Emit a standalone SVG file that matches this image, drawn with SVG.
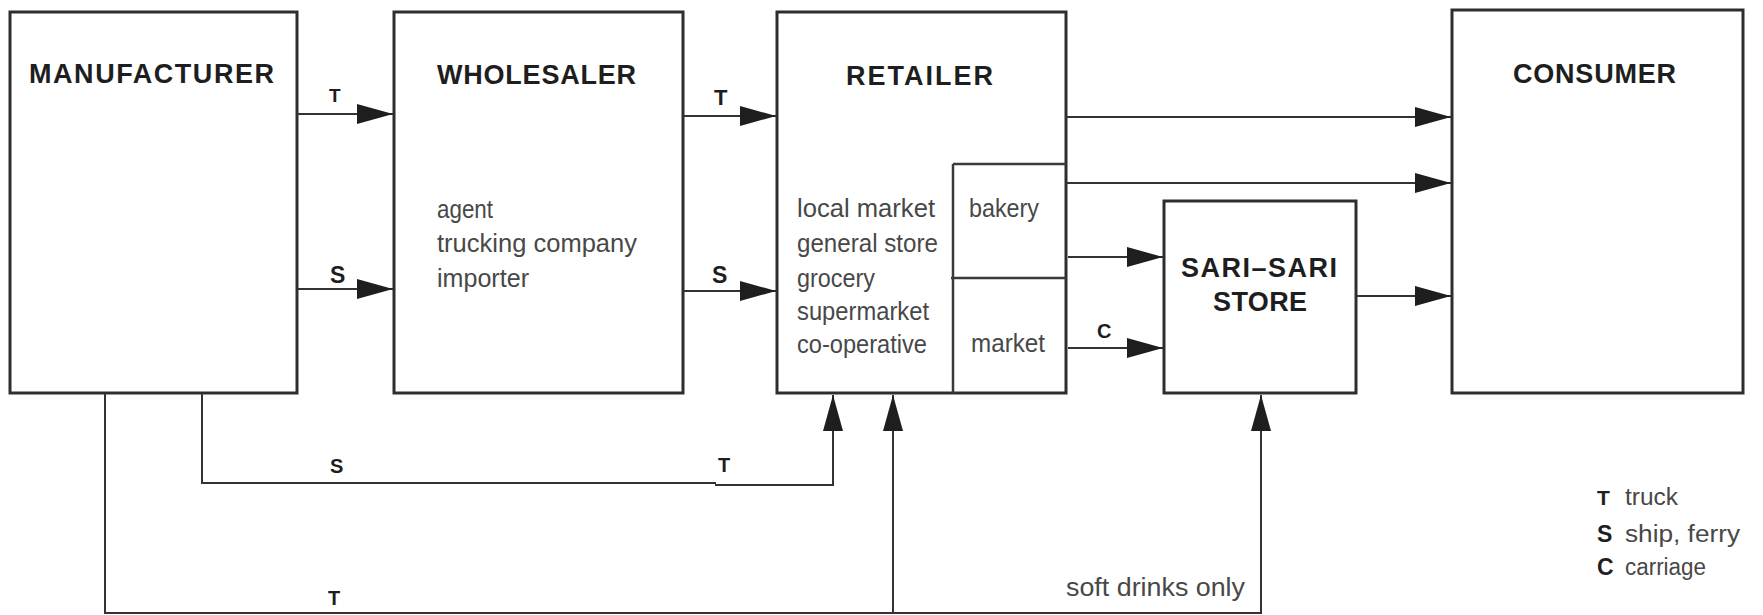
<svg xmlns="http://www.w3.org/2000/svg" width="1763" height="615" viewBox="0 0 1763 615">
  <style>
    .box { fill: #fff; stroke: #2e2e2e; stroke-width: 3; }
    .div { fill: none; stroke: #3a3a3a; stroke-width: 2.5; }
    .title { font-family: "Liberation Sans", Arial, sans-serif; font-weight: bold; font-size: 27px; fill: #1e1e1e; }
    .body { font-family: "Liberation Sans", Arial, sans-serif; font-size: 26px; fill: #484848; }
    .mode { font-family: "Liberation Sans", Arial, sans-serif; font-weight: bold; font-size: 20px; fill: #1e1e1e; }
    .legend { font-family: "Liberation Sans", Arial, sans-serif; font-size: 23px; fill: #484848; }
    .link { fill: none; stroke: #333; stroke-width: 2; }
  </style>
  <defs>
    <marker id="arrow" viewBox="0 0 36 20" refX="36" refY="10" markerWidth="36" markerHeight="20" markerUnits="userSpaceOnUse" orient="auto">
      <path d="M0,0 L36,10 L0,20 Z" fill="#1e1e1e"/>
    </marker>
  </defs>
  <rect width="1763" height="615" fill="#fff"/>

  <!-- supply-chain stages -->
  <g id="manufacturer">
    <rect class="box" x="10" y="12" width="287" height="381"/>
    <text class="title" x="29" y="83" textLength="245" lengthAdjust="spacing">MANUFACTURER</text>
  </g>

  <g id="wholesaler">
    <rect class="box" x="394" y="12" width="289" height="381"/>
    <text class="title" x="437" y="84" textLength="199" lengthAdjust="spacing">WHOLESALER</text>
    <text class="body" x="437" y="218" textLength="56" lengthAdjust="spacingAndGlyphs">agent</text>
    <text class="body" x="437" y="252" textLength="200" lengthAdjust="spacingAndGlyphs">trucking company</text>
    <text class="body" x="437" y="287" textLength="92" lengthAdjust="spacingAndGlyphs">importer</text>
  </g>

  <g id="retailer">
    <rect class="box" x="777" y="12" width="289" height="381"/>
    <path class="div" d="M953,164 V393 M953,164 H1066 M951,278 H1066"/>
    <text class="title" x="846" y="85" textLength="147" lengthAdjust="spacing">RETAILER</text>
    <text class="body" x="797" y="217" textLength="138" lengthAdjust="spacingAndGlyphs">local market</text>
    <text class="body" x="797" y="252" textLength="141" lengthAdjust="spacingAndGlyphs">general store</text>
    <text class="body" x="797" y="287" textLength="78" lengthAdjust="spacingAndGlyphs">grocery</text>
    <text class="body" x="797" y="320" textLength="132" lengthAdjust="spacingAndGlyphs">supermarket</text>
    <text class="body" x="797" y="353" textLength="130" lengthAdjust="spacingAndGlyphs">co-operative</text>
    <text class="body" x="969" y="217" textLength="70" lengthAdjust="spacingAndGlyphs">bakery</text>
    <text class="body" x="971" y="352" textLength="74" lengthAdjust="spacingAndGlyphs">market</text>
  </g>

  <g id="sari-sari-store">
    <rect class="box" x="1164" y="201" width="192" height="192"/>
    <text class="title" x="1181" y="277" textLength="156" lengthAdjust="spacing">SARI–SARI</text>
    <text class="title" x="1213" y="311" textLength="94" lengthAdjust="spacing">STORE</text>
  </g>

  <g id="consumer">
    <rect class="box" x="1452" y="10" width="291" height="383"/>
    <text class="title" x="1513" y="83" textLength="163" lengthAdjust="spacing">CONSUMER</text>
  </g>

  <!-- flows between stages -->
  <g id="connectors">
    <path class="link" d="M297,114 H393" marker-end="url(#arrow)"/>
    <path class="link" d="M297,289 H393" marker-end="url(#arrow)"/>
    <path class="link" d="M683,116 H776" marker-end="url(#arrow)"/>
    <path class="link" d="M683,291 H776" marker-end="url(#arrow)"/>
    <path class="link" d="M1066,117 H1451" marker-end="url(#arrow)"/>
    <path class="link" d="M1066,183 H1451" marker-end="url(#arrow)"/>
    <path class="link" d="M1068,257 H1163" marker-end="url(#arrow)"/>
    <path class="link" d="M1068,348 H1163" marker-end="url(#arrow)"/>
    <path class="link" d="M1356,296 H1451" marker-end="url(#arrow)"/>
    <path class="link" d="M202,393 V483 H716"/>
    <path class="link" d="M715,485 H833 V395" marker-end="url(#arrow)"/>
    <path class="link" d="M105,393 V613 H1261 V395" marker-end="url(#arrow)"/>
    <path class="link" d="M893,613 V395" marker-end="url(#arrow)"/>

    <text class="mode" x="329" y="102" style="font-size:19px">T</text>
    <text class="mode" x="330" y="283" style="font-size:23px">S</text>
    <text class="mode" x="714" y="105" style="font-size:22px">T</text>
    <text class="mode" x="712" y="283" style="font-size:23px">S</text>
    <text class="mode" x="1097" y="338">C</text>
    <text class="mode" x="330" y="473">S</text>
    <text class="mode" x="718" y="472">T</text>
    <text class="mode" x="328" y="605">T</text>
    <text class="body" x="1066" y="596" textLength="179" lengthAdjust="spacingAndGlyphs">soft drinks only</text>
  </g>

  <!-- key to transport modes -->
  <g id="legend">
    <text class="mode" x="1597" y="505" style="font-size:21px">T</text>
    <text class="legend" x="1625" y="505" textLength="53" lengthAdjust="spacingAndGlyphs">truck</text>
    <text class="mode" x="1597" y="542" style="font-size:23px">S</text>
    <text class="legend" x="1625" y="542" textLength="115" lengthAdjust="spacingAndGlyphs">ship, ferry</text>
    <text class="mode" x="1597" y="575" style="font-size:23px">C</text>
    <text class="legend" x="1625" y="575" textLength="81" lengthAdjust="spacingAndGlyphs">carriage</text>
  </g>
</svg>
